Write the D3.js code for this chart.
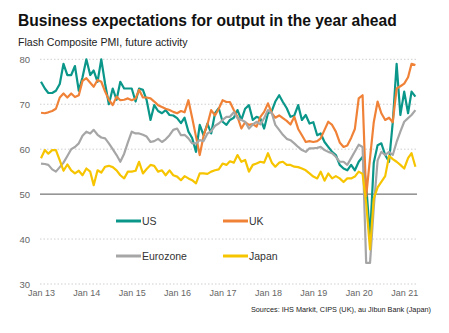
<!DOCTYPE html>
<html>
<head>
<meta charset="utf-8">
<script src="https://cdn.jsdelivr.net/npm/d3@7"></script>
<style>
  body { margin: 0; background: #fff; }
  svg { display: block; font-family: "Liberation Sans", Arial, sans-serif; }
</style>
</head>
<body>
<script>
// Monthly readings, Jan 2013 to Apr 2021
var us = [75, 73.5, 72.5, 72.5, 73, 74.5, 79, 76.5, 76.5, 78.5, 73, 76,
          80, 76.5, 77.5, 75, 80, 74.5, 70, 73.5, 71, 75, 73.5, 73.5,
          73.5, 70.6, 73.5, 73.2, 70.9, 66.5, 69.8, 68.5, 68, 68.7, 67.6, 67.5,
          66.9, 65.8, 67, 63.9, 62.5, 59.4, 65.4, 63.1, 65.7, 63.5, 68, 69.1,
          66.1, 65.4, 66.5, 67, 68.7, 66.5, 69, 69.8, 66.5, 67.2, 66.8, 64.6,
          68, 68.5, 70.6, 72, 70.5, 69.1, 67.2, 67.5, 69.8, 66.5, 67.6, 65.7,
          66, 63.1, 63.5, 61.6, 60.5, 59.4, 58.7, 56.5, 55.7, 55.3, 56.5, 55.3,
          57.2, 58.3, 52, 40.5, 57, 60.9, 61.3, 58.7, 57.2, 66, 79, 67.6,
          72.8, 68, 72.8, 71.7];
var uk = [68.1, 68, 68.2, 68.5, 69, 71.5, 72.4, 71.5, 72.4, 71.6, 72, 75.2,
          75.8, 74.8, 73.9, 75.4, 75, 72.8, 71, 69.8, 71.7, 70.9, 71, 71.3,
          70.9, 71.3, 73.2, 71.5, 71.5, 71.3, 70.6, 69.8, 69.4, 69, 68.7, 68.3,
          68, 68.5, 68.2, 70.9, 67, 62.8, 58.7, 63, 65.5, 68.7, 67.5, 69,
          70.9, 70.5, 70.5, 68.7, 67.2, 64.6, 66, 65.4, 65.6, 65, 67.2, 68.3,
          70.2, 68, 67, 67.5, 66.9, 66.3, 65.5, 67.2, 64.5, 63.1, 61.6, 61.8,
          61.6, 61.8, 62.4, 64.3, 66.1, 65.4, 63.9, 61.5, 60.5, 60.8, 62.5, 64.5,
          71.3, 72, 49.5, 58, 66, 70.6, 68, 66.5, 67, 66, 73.5, 74,
          74.6, 76, 79, 78.7];
var eurozone = [56.8, 56.7, 56.5, 55.5, 55, 56, 57, 58.5, 60, 60.5, 61.3, 63,
          63.9, 63.5, 64.3, 63.2, 62.6, 62.4, 61.3, 60, 58.7, 57.2, 59, 61.5,
          63.9, 63.5, 63.5, 63.2, 62.8, 61.6, 61.8, 62.3, 61.6, 62.2, 63.1, 64.3,
          64.6, 63.1, 63.2, 62.4, 61.3, 61.3, 62, 61.8, 63.5, 64, 65.2, 65.7,
          66.5, 67.2, 67.2, 68.2, 66.9, 66.5, 66.1, 64.6, 65.5, 66.1, 65.5, 66.9,
          68.7, 68, 65.4, 64.3, 63.2, 62.3, 62, 61.3, 60.5, 59.8, 59.4, 60.2,
          60.2, 60.3, 60.5, 59.8, 59.4, 59.1, 58.3, 57.2, 57.2, 56.5, 58, 59.5,
          61, 60.5, 34.7, 34.7, 47, 57.5, 59.4, 58.7, 59.4, 58.7, 61.6, 63.9,
          66.1, 66.9, 67.6, 68.7];
var japan = [58, 59.8, 59, 59.8, 59.8, 57.5, 55.2, 56.6, 55.3, 54.6, 55.2, 54.2,
          55.7, 55, 52, 55.3, 54.8, 56.1, 56.3, 56, 55.3, 54.2, 53.5, 55,
          55, 55.2, 57.2, 54.6, 55.6, 56.5, 56.3, 55, 55.3, 54.2, 55.3, 54.2,
          53.9, 53.1, 54, 53.5, 53.1, 52.4, 54.6, 54.6, 54.5, 55, 55.3, 55.5,
          56.8, 56.5, 57.3, 57, 58.7, 57.2, 57.6, 55, 56.5, 56.8, 57.2, 57,
          59.1, 57, 56.1, 57, 57.2, 56.5, 56.5, 56.1, 56, 55.7, 55.3, 54.6,
          53.9, 53.5, 55, 53, 54.6, 53.5, 54, 53.5, 52.7, 53.5, 53.5, 53.9,
          55, 54.5, 48, 37.7, 49, 51.5, 52.7, 54, 58.5, 57.8, 57.2, 56.5,
          55.7, 58, 59.1, 56.1];

var seriesNames = ["US", "UK", "Eurozone", "Japan"];
var seriesColors = ["#0a978a", "#f08238", "#a6a6a6", "#f7c400"];
var yTicks = [30, 40, 50, 60, 70, 80];
var xTickLabels = ["Jan 13", "Jan 14", "Jan 15", "Jan 16", "Jan 17", "Jan 18", "Jan 19", "Jan 20", "Jan 21"];

var width = 449, height = 333;

var svg = d3.select("body").append("svg")
    .attr("width", width)
    .attr("height", height);

// one date per reading, starting Jan 2013
var months = d3.timeMonth.range(new Date(2013, 0, 1), new Date(2021, 4, 1));

var x = d3.scaleTime()
    .domain([new Date(2013, 0, 1), new Date(2021, 3, 1)])
    .range([41, 415.4]);

var y = d3.scaleLinear()
    .domain([30, 80])
    .range([284, 59.3]);

// title block
svg.append("text")
    .attr("x", 18).attr("y", 26)
    .attr("font-size", "15.6px")
    .attr("font-weight", "bold")
    .attr("fill", "#111")
    .text("Business expectations for output in the year ahead");

svg.append("text")
    .attr("x", 18).attr("y", 46)
    .attr("font-size", "10.6px")
    .attr("fill", "#222")
    .text("Flash Composite PMI, future activity");

// dotted gridlines, solid line at 50
svg.append("g").selectAll("line")
    .data(yTicks)
    .enter().append("line")
    .attr("x1", 40).attr("x2", 417)
    .attr("y1", function(d) { return y(d); })
    .attr("y2", function(d) { return y(d); })
    .attr("stroke", function(d) { return d === 50 ? "#555" : "#cfcfcf"; })
    .attr("stroke-width", 1)
    .attr("stroke-dasharray", function(d) { return d === 50 ? null : "1.5,2"; });

// y axis labels
var yAxis = svg.append("g")
    .attr("transform", "translate(30,0)")
    .call(d3.axisLeft(y).tickValues(yTicks).tickSize(0).tickPadding(0));
yAxis.select(".domain").remove();
yAxis.selectAll("text")
    .attr("font-size", "9.5px")
    .attr("font-family", "Liberation Sans, Arial, sans-serif")
    .attr("fill", "#666");

// x axis labels at each January
var xAxis = svg.append("g")
    .attr("transform", "translate(0,290)")
    .call(d3.axisBottom(x)
        .tickValues(xTickLabels.map(function(d, i) { return new Date(2013 + i, 0, 1); }))
        .tickFormat(function(d, i) { return xTickLabels[i]; })
        .tickSize(0).tickPadding(0));
xAxis.select(".domain").remove();
xAxis.selectAll("text")
    .attr("font-size", "9px")
    .attr("font-family", "Liberation Sans, Arial, sans-serif")
    .attr("fill", "#666");

var line = d3.line()
    .x(function(d, i) { return x(months[i]); })
    .y(function(d) { return y(d); });

var allSeries = [us, uk, eurozone, japan];

svg.append("g").selectAll("path")
    .data(allSeries)
    .enter().append("path")
    .attr("d", line)
    .attr("fill", "none")
    .attr("stroke", function(d, i) { return seriesColors[i]; })
    .attr("stroke-width", 2.2)
    .attr("stroke-linejoin", "round");

// legend, two columns
var legend = svg.append("g");
seriesNames.forEach(function(name, i) {
    var lx = i % 2 === 0 ? 116 : 223;
    var ly = i < 2 ? 221 : 256;
    legend.append("line")
        .attr("x1", lx).attr("x2", lx + 25)
        .attr("y1", ly).attr("y2", ly)
        .attr("stroke", seriesColors[i])
        .attr("stroke-width", 3);
    legend.append("text")
        .attr("x", lx + 26).attr("y", ly + 4)
        .attr("font-size", "10.5px")
        .attr("fill", "#333")
        .text(name);
});

svg.append("text")
    .attr("x", 431).attr("y", 312)
    .attr("text-anchor", "end")
    .attr("font-size", "7.3px")
    .attr("fill", "#222")
    .text("Sources: IHS Markit, CIPS (UK), au Jibun Bank (Japan)");
</script>
</body>
</html>
